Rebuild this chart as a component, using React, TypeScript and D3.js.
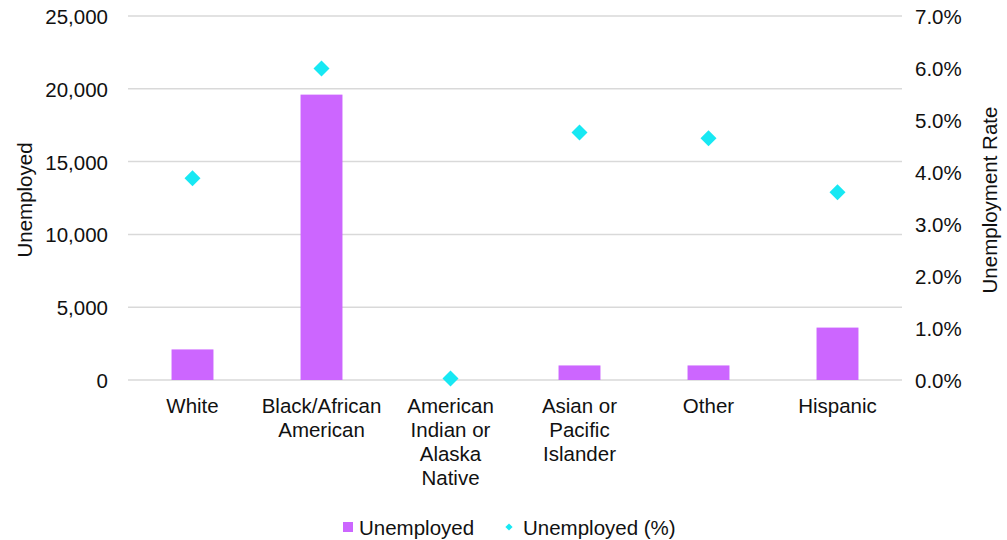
import React from "react";
import * as d3 from "d3";

// Unemployment by race / ethnicity
const categories = [
  "White",
  "Black/African American",
  "American Indian or Alaska Native",
  "Asian or Pacific Islander",
  "Other",
  "Hispanic",
];
// Wrapped axis labels for each category
const categoryLines = [
  ["White"],
  ["Black/African", "American"],
  ["American", "Indian or", "Alaska", "Native"],
  ["Asian or", "Pacific", "Islander"],
  ["Other"],
  ["Hispanic"],
];
const unemployed = [2100, 19600, 0, 1000, 1000, 3600];
const unemploymentRate = [0.0388, 0.0599, 0.0003, 0.0476, 0.0465, 0.0361];

const leftTicks = [0, 5000, 10000, 15000, 20000, 25000];
const rightTicks = [0, 0.01, 0.02, 0.03, 0.04, 0.05, 0.06, 0.07];

const WIDTH = 1007;
const HEIGHT = 540;
const BAR_COLOR = "#CC66FF";
const POINT_COLOR = "#17E8F3";
const GRID_COLOR = "#D9D9D9";
const TEXT_COLOR = "#111111";
const FONT = "'Liberation Sans', Arial, sans-serif";

export default function App() {
  const plotLeft = 128;
  const plotRight = 902;
  const plotTop = 16;
  const plotBottom = 380;

  const x = d3.scaleBand<string>().domain(categories).range([plotLeft, plotRight]);
  const yLeft = d3.scaleLinear().domain([0, 25000]).range([plotBottom, plotTop]);
  const yRight = d3.scaleLinear().domain([0, 0.07]).range([plotBottom, plotTop]);

  const barWidth = x.bandwidth() * 0.325;
  const fmtCount = d3.format(",");
  const fmtPct = d3.format(".1%");
  const diamond = d3.symbol(d3.symbolSquare, 128)()!;
  const legendDiamond = d3.symbol(d3.symbolSquare, 26)()!;

  const fontSize = 20.5;

  return (
    <svg
      width={WIDTH}
      height={HEIGHT}
      style={{ position: "absolute", left: 0, top: 0, background: "#fff" }}
      fontFamily={FONT}
      fontSize={fontSize}
      fill={TEXT_COLOR}
    >
      {/* gridlines */}
      {leftTicks.map((t) => (
        <line
          key={"g" + t}
          x1={plotLeft}
          x2={plotRight}
          y1={yLeft(t)}
          y2={yLeft(t)}
          stroke={GRID_COLOR}
          strokeWidth={1.5}
        />
      ))}

      {/* left axis labels */}
      {leftTicks.map((t) => (
        <text key={"l" + t} x={108} y={yLeft(t) + 8} textAnchor="end">
          {fmtCount(t)}
        </text>
      ))}

      {/* right axis labels */}
      {rightTicks.map((t) => (
        <text key={"r" + t} x={915} y={yRight(t) + 8} textAnchor="start">
          {fmtPct(t)}
        </text>
      ))}

      {/* axis titles */}
      <text transform="translate(32,200) rotate(-90)" textAnchor="middle">
        Unemployed
      </text>
      <text transform="translate(997,200) rotate(-90)" textAnchor="middle">
        Unemployment Rate
      </text>

      {/* bars */}
      {categories.map((c, i) => (
        <rect
          key={"b" + c}
          x={x(c)! + x.bandwidth() / 2 - barWidth / 2}
          y={yLeft(unemployed[i])}
          width={barWidth}
          height={plotBottom - yLeft(unemployed[i])}
          fill={BAR_COLOR}
        />
      ))}

      {/* rate markers */}
      {categories.map((c, i) => (
        <path
          key={"p" + c}
          d={diamond}
          transform={`translate(${x(c)! + x.bandwidth() / 2},${yRight(unemploymentRate[i])}) rotate(45)`}
          fill={POINT_COLOR}
        />
      ))}

      {/* category labels */}
      {categories.map((c, i) => (
        <text key={"c" + c} x={x(c)! + x.bandwidth() / 2} y={413} textAnchor="middle">
          {categoryLines[i].map((line, j) => (
            <tspan key={j} x={x(c)! + x.bandwidth() / 2} dy={j === 0 ? 0 : 24}>
              {line}
            </tspan>
          ))}
        </text>
      ))}

      {/* legend */}
      <rect x={343} y={522} width={10} height={10} fill={BAR_COLOR} />
      <text x={359} y={535}>Unemployed</text>
      <path d={legendDiamond} transform="translate(509,527) rotate(45)" fill={POINT_COLOR} />
      <text x={523} y={535}>Unemployed (%)</text>
    </svg>
  );
}
